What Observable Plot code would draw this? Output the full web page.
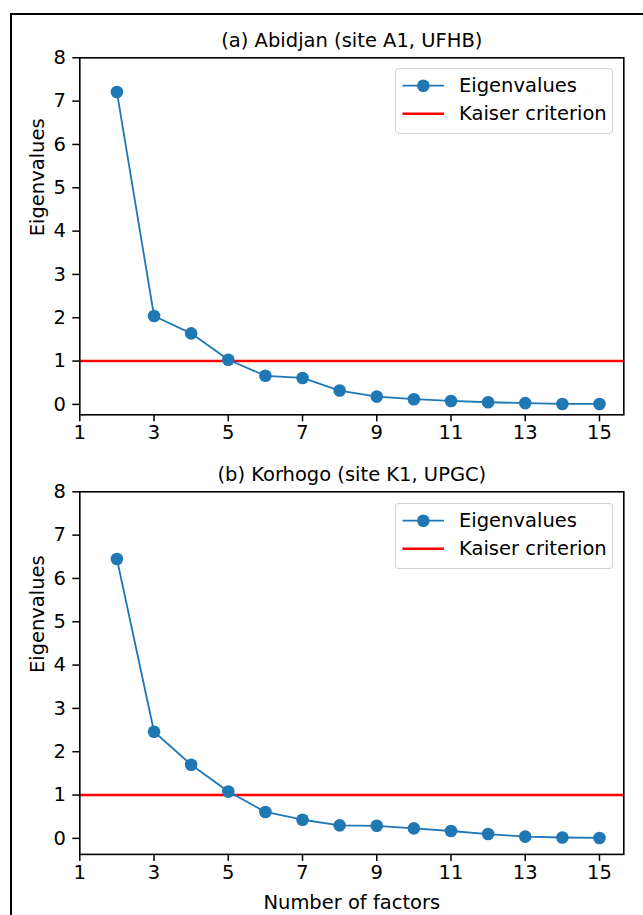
<!DOCTYPE html>
<html>
<head>
<meta charset="utf-8">
<script src="https://cdn.jsdelivr.net/npm/d3@7"></script>
<script src="https://cdn.jsdelivr.net/npm/@observablehq/plot@0.6"></script>
<style>
  html, body { margin: 0; padding: 0; background: #fff; }
  body { width: 643px; height: 915px; position: relative; overflow: hidden; font-family: "DejaVu Sans", sans-serif; }
  #frame { position: absolute; left: 10px; top: 13px; width: 700px; height: 1000px; border: 2px solid #000; box-sizing: border-box; }
  .panel { position: absolute; left: 0; }
  .legend { position: absolute; left: 395px; width: 218px; height: 66px; box-sizing: border-box;
            border: 1.5px solid rgba(204,204,204,0.85); border-radius: 4px; background: rgba(255,255,255,0.8); }
  .legend svg { position: absolute; left: 0; top: 0; }
  .legend .lt { position: absolute; left: 63px; font-size: 19.5px; line-height: 1; color: #000; white-space: nowrap; }
</style>
</head>
<body>
<div id="frame"></div>
<div id="panelA" class="panel" style="top:0px"></div>
<div id="panelB" class="panel" style="top:434.4px"></div>
<script>
// ---- data ----
const factors = [2, 3, 4, 5, 6, 7, 8, 9, 10, 11, 12, 13, 14, 15];
const abidjan = [7.21, 2.04, 1.64, 1.03, 0.66, 0.61, 0.32, 0.18, 0.12, 0.08, 0.05, 0.03, 0.01, 0.01];
const korhogo = [6.45, 2.46, 1.70, 1.08, 0.61, 0.43, 0.30, 0.29, 0.23, 0.17, 0.10, 0.04, 0.02, 0.01];
const kaiserValue = 1;
const xTicks = [1, 3, 5, 7, 9, 11, 13, 15];
const yTicks = [0, 1, 2, 3, 4, 5, 6, 7, 8];
const titles = ["(a) Abidjan (site A1, UFHB)", "(b) Korhogo (site K1, UPGC)"];
const legendLabels = ["Eigenvalues", "Kaiser criterion"];
const yLabel = "Eigenvalues";
const xLabel = "Number of factors";

const BLUE = "#1f77b4";
const RED = "#ff0000";
const FS = 19.5;

function panel(values, title, opts) {
  const data = factors.map((f, i) => ({factor: f, value: values[i]}));
  const marks = [
    Plot.ruleY([kaiserValue], {stroke: RED, strokeWidth: 2.5}),
    Plot.line(data, {x: "factor", y: "value", stroke: BLUE, strokeWidth: 1.8}),
    Plot.dot(data, {x: "factor", y: "value", r: 6.3, fill: BLUE, stroke: "none"}),
    Plot.frame({stroke: "#000", strokeWidth: 1.6}),
    Plot.axisX({ticks: xTicks, tickSize: 7, tickPadding: 3.5, label: null, fontSize: FS, strokeWidth: 1.5, tickFormat: d => String(d)}),
    Plot.axisY({ticks: yTicks, tickSize: 7, tickPadding: 7, label: null, fontSize: FS, strokeWidth: 1.5, tickFormat: d => String(d)}),
    Plot.text([title], {frameAnchor: "top", dy: -17.3, lineAnchor: "middle", fontSize: FS, fill: "#000"}),
    Plot.text([yLabel], {frameAnchor: "left", dx: -42, rotate: -90, lineAnchor: "middle", fontSize: FS, fill: "#000"})
  ];
  if (opts.xLabel) {
    marks.push(Plot.text([xLabel], {frameAnchor: "bottom", dy: 48.7, lineAnchor: "middle", fontSize: FS, fill: "#000"}));
  }
  return Plot.plot({
    width: 643,
    height: opts.height,
    marginLeft: 79.3,
    marginRight: 19.7,
    marginTop: 57.3,
    marginBottom: opts.height - 57.3 - opts.innerH,
    style: {fontFamily: "DejaVu Sans, sans-serif", fontSize: FS + "px", color: "#000", background: "transparent", overflow: "visible"},
    x: {domain: [1, 15.655]},
    y: {domain: opts.yDomain},
    marks
  });
}

const a = panel(abidjan, titles[0], {height: 440, innerH: 357, yDomain: [-0.24, 8]});
const b = panel(korhogo, titles[1], {height: 480.6, innerH: 362.6, yDomain: [-0.37, 8], xLabel: true});
document.getElementById("panelA").appendChild(a);
document.getElementById("panelB").appendChild(b);

function legend(top) {
  const div = document.createElement("div");
  div.className = "legend";
  div.style.top = top + "px";
  const svg = d3.create("svg").attr("width", 218).attr("height", 66);
  svg.append("line").attr("x1", 6.5).attr("x2", 48).attr("y1", 16.7).attr("y2", 16.7).attr("stroke", BLUE).attr("stroke-width", 1.8);
  svg.append("circle").attr("cx", 27.3).attr("cy", 16.7).attr("r", 6.3).attr("fill", BLUE);
  svg.append("line").attr("x1", 6.5).attr("x2", 48).attr("y1", 44.7).attr("y2", 44.7).attr("stroke", RED).attr("stroke-width", 2.5);
  div.appendChild(svg.node());
  legendLabels.forEach((t, i) => {
    const s = document.createElement("div");
    s.className = "lt";
    s.textContent = t;
    s.style.top = (16.7 + 28 * i - FS * 0.5) + "px";
    div.appendChild(s);
  });
  document.body.appendChild(div);
}
legend(68.3);
legend(502.7);
</script>
</body>
</html>
